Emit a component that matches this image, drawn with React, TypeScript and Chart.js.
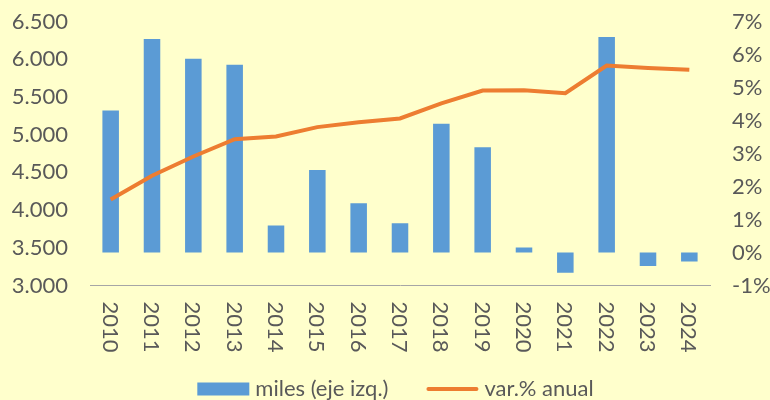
import React, { useEffect, useRef } from "react";
import { Chart, registerables } from "chart.js";

Chart.register(...registerables);

const years = ["2010", "2011", "2012", "2013", "2014", "2015", "2016", "2017", "2018", "2019", "2020", "2021", "2022", "2023", "2024"];
// bars (drawn against right axis, %)
const barValues = [4.3, 6.47, 5.87, 5.69, 0.82, 2.5, 1.49, 0.89, 3.9, 3.19, 0.15, -0.61, 6.53, -0.41, -0.27];
// line (drawn against left axis, miles)
const lineValues = [4140, 4455, 4710, 4940, 4975, 5100, 5165, 5215, 5415, 5585, 5590, 5550, 5915, 5885, 5860];
const barLabel = "miles (eje izq.)";
const lineLabel = "var.% anual";
const leftMin = 3000;
const leftMax = 6500;
const leftStep = 500;
const rightMin = -1;
const rightMax = 7;
const rightStep = 1;

const BG = "#FFFFCC";
const BAR = "#5B9BD5";
const LINE = "#ED7D31";
const TEXT = "#595959";
const FONT = "Lato";
const FSIZE = 22;

function fmtThousands(v: number): string {
  const s = Math.round(v).toString();
  return s.replace(/\B(?=(\d{3})+(?!\d))/g, ".");
}

const customPlugin = {
  id: "customDraw",
  beforeDraw(chart: any) {
    const ctx = chart.ctx;
    ctx.save();
    ctx.fillStyle = BG;
    ctx.fillRect(0, 0, chart.width, chart.height);
    ctx.restore();
  },
  afterDraw(chart: any) {
    const ctx = chart.ctx;
    const xs = chart.scales.x;
    const area = chart.chartArea;
    ctx.save();
    ctx.fillStyle = TEXT;
    ctx.font = `${FSIZE}px ${FONT}`;
    years.forEach((lab, i) => {
      const px = xs.getPixelForValue(i);
      ctx.save();
      ctx.translate(px - 1, area.bottom + 16);
      ctx.rotate(Math.PI / 2);
      ctx.textAlign = "left";
      ctx.textBaseline = "middle";
      ctx.fillText(lab, 0, 0);
      ctx.restore();
    });

    // legend
    const boxW = 52;
    const boxH = 13;
    const gap = 6;
    const between = 38;
    const w1 = ctx.measureText(barLabel).width;
    const w2 = ctx.measureText(lineLabel).width;
    const total = boxW + gap + w1 + between + boxW + gap + w2;
    const centerX = 395.5;
    let x = centerX - total / 2;
    const baseY = 396;
    const midY = 389;
    ctx.fillStyle = BAR;
    ctx.fillRect(x, midY - boxH / 2, boxW, boxH);
    x += boxW + gap;
    ctx.fillStyle = TEXT;
    ctx.textAlign = "left";
    ctx.textBaseline = "alphabetic";
    ctx.fillText(barLabel, x, baseY);
    x += w1 + between;
    ctx.strokeStyle = LINE;
    ctx.lineWidth = 4;
    ctx.lineCap = "round";
    ctx.beginPath();
    ctx.moveTo(x + 2, midY);
    ctx.lineTo(x + boxW - 2, midY);
    ctx.stroke();
    x += boxW + gap;
    ctx.fillStyle = TEXT;
    ctx.fillText(lineLabel, x, baseY);
    ctx.restore();
  },
};

export default function App() {
  const ref = useRef<HTMLCanvasElement | null>(null);
  useEffect(() => {
    if (!ref.current) return;
    const chart = new Chart(ref.current, {
      type: "bar",
      data: {
        labels: years,
        datasets: [
          {
            type: "line",
            label: lineLabel,
            data: lineValues,
            yAxisID: "yL",
            borderColor: LINE,
            backgroundColor: LINE,
            borderWidth: 4,
            pointRadius: 0,
            tension: 0,
            order: 0,
          } as any,
          {
            type: "bar",
            label: barLabel,
            data: barValues,
            yAxisID: "yR",
            backgroundColor: BAR,
            borderWidth: 0,
            barPercentage: 0.4,
            categoryPercentage: 1,
            order: 1,
          } as any,
        ],
      },
      options: {
        responsive: false,
        animation: false,
        layout: { padding: { top: 21.5, left: 0, right: 0, bottom: 0 } },
        plugins: {
          legend: { display: false },
          tooltip: { enabled: false },
        },
        scales: {
          x: {
            offset: true,
            grid: { display: false, drawTicks: false },
            ticks: { display: false },
            border: { display: true, color: "#A6A6A6", width: 1 },
            afterFit: (s: any) => {
              s.height = 114.5;
            },
          },
          yL: {
            position: "left",
            min: leftMin,
            max: leftMax,
            grid: { display: false, drawTicks: false },
            border: { display: false },
            ticks: {
              stepSize: leftStep,
              padding: 22,
              color: TEXT,
              font: { family: FONT, size: FSIZE },
              callback: (v: any) => fmtThousands(Number(v)),
            },
            afterFit: (s: any) => {
              s.width = 90;
              s.paddingTop = 0;
              s.paddingBottom = 0;
            },
          },
          yR: {
            position: "right",
            min: rightMin,
            max: rightMax,
            grid: { display: false, drawTicks: false },
            border: { display: false },
            ticks: {
              stepSize: rightStep,
              padding: 22,
              color: TEXT,
              font: { family: FONT, size: FSIZE },
              callback: (v: any) => `${v}%`,
            },
            afterFit: (s: any) => {
              s.width = 60;
              s.paddingTop = 0;
              s.paddingBottom = 0;
            },
          },
        },
      },
      plugins: [customPlugin],
    });
    return () => chart.destroy();
  }, []);
  return (
    <div style={{ position: "fixed", left: 0, top: 0, width: 770, height: 400 }}>
      <canvas ref={ref} width={770} height={400} />
    </div>
  );
}
